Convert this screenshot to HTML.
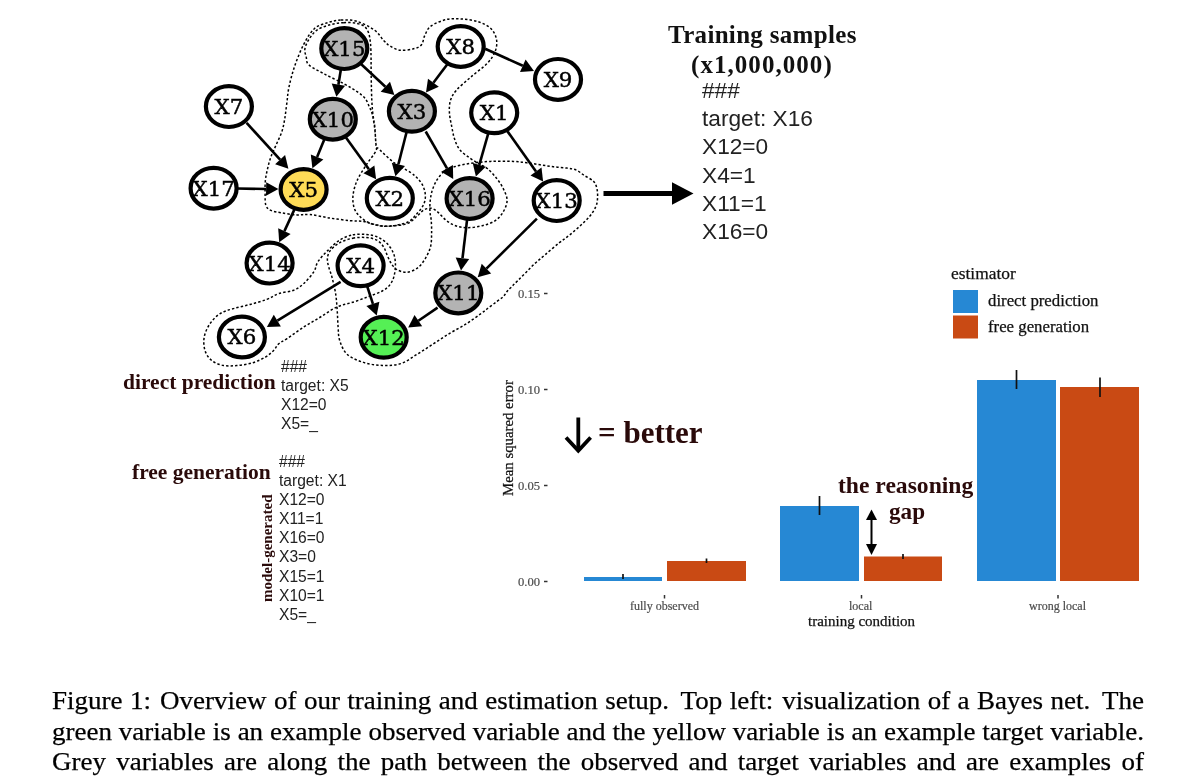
<!DOCTYPE html>
<html><head><meta charset="utf-8"><title>Figure 1</title>
<style>
html,body{margin:0;padding:0;background:#fff;}
body{width:1200px;height:777px;position:relative;overflow:hidden;font-family:"Liberation Serif",serif;color:#000;}
svg{position:absolute;left:0;top:0;}
.nl{font-family:"DejaVu Serif",serif;font-size:20px;fill:#000;stroke:#000;stroke-width:0.45px;}
.t{position:absolute;white-space:nowrap;line-height:1;}
.sans{font-family:"Liberation Sans",sans-serif;color:#222;}
.hb{font-family:"Liberation Serif",serif;font-weight:bold;color:#2a0a0a;}
.cap{position:absolute;left:52px;top:686.3px;width:1011px;font-size:25px;line-height:30.5px;color:#000;-webkit-text-stroke:0.25px #000;transform-origin:0 0;transform:scaleX(1.08);}
.cap i{display:inline-block;height:1px;}
.cap .g1{width:4.4px;}
.cap .g2{width:1.5px;}
.cap div{text-align:justify;text-align-last:justify;white-space:nowrap;height:30.5px;}
.ax{font-family:"Liberation Serif",serif;color:#4d4d4d;font-size:12.6px;-webkit-text-stroke:0.2px #4d4d4d;}
.cl{-webkit-text-stroke:0.25px #111;}
</style></head><body>
<svg width="1200" height="777" viewBox="0 0 1200 777">
<g fill="none" stroke="#000" stroke-width="1.5" stroke-dasharray="2.4,2.1">
<path d="M341.0,20.0C345.9,19.8 351.5,19.7 357.1,21.4C362.7,23.1 370.0,26.9 374.5,30.1C379.0,33.3 381.3,38.1 383.9,40.8C386.5,43.4 387.3,44.4 390.0,46.0C392.7,47.6 396.1,49.7 400.0,50.2C403.9,50.7 409.9,49.7 413.5,48.8C417.1,47.9 419.6,47.0 421.5,44.8C423.4,42.6 423.2,38.5 424.8,35.4C426.4,32.3 427.2,28.8 430.9,26.1C434.6,23.4 441.5,20.6 446.9,19.4C452.2,18.2 457.6,18.7 463.0,19.1C468.4,19.5 474.3,20.4 479.0,22.0C483.7,23.6 488.2,25.8 491.1,28.7C494.0,31.6 495.8,35.7 496.5,39.5C497.2,43.3 496.7,47.5 495.1,51.5C493.5,55.5 491.1,59.3 487.1,63.5C483.1,67.7 476.1,72.4 471.0,76.9C465.9,81.4 459.8,86.3 456.3,90.3C452.9,94.3 451.4,97.1 450.3,101.0C449.2,104.9 449.2,109.4 449.5,113.7C449.8,118.0 451.0,122.6 451.8,126.8C452.6,131.0 453.2,135.0 454.5,138.8C455.8,142.6 457.1,146.3 459.5,149.4C461.9,152.5 465.8,155.1 468.9,157.4C472.0,159.7 475.2,161.5 478.3,163.4C481.4,165.3 484.5,166.2 487.6,168.8C490.7,171.4 494.3,175.4 497.0,178.8C499.7,182.2 502.0,185.9 503.7,189.5C505.4,193.1 507.1,196.6 507.1,200.2C507.1,203.8 505.6,207.7 503.7,211.0C501.8,214.3 499.3,217.9 495.7,220.3C492.1,222.8 487.0,224.5 482.3,225.7C477.6,226.9 472.1,227.7 467.6,227.7C463.1,227.7 459.1,226.9 455.5,225.7C451.9,224.5 449.0,222.5 446.1,220.3C443.2,218.1 440.6,214.3 438.1,212.3C435.7,210.3 433.8,208.7 431.4,208.3C429.0,207.9 426.2,208.7 423.8,210.0C421.4,211.3 419.6,214.0 417.1,216.1C414.7,218.2 412.2,221.2 409.1,222.8C406.0,224.4 402.4,224.9 398.4,225.4C394.4,225.9 389.2,226.3 385.0,226.1C380.8,225.9 376.5,224.9 372.9,224.1C369.3,223.3 367.3,222.0 363.5,221.4C359.7,220.8 355.8,221.2 350.2,220.7C344.6,220.1 336.8,219.1 330.1,218.1C323.4,217.1 315.6,215.0 310.0,214.5C304.4,214.0 301.5,215.2 296.8,214.9C292.1,214.6 286.1,213.7 281.8,212.9C277.5,212.2 273.5,211.7 270.9,210.4C268.2,209.2 266.9,208.2 265.9,205.4C264.9,202.6 265.2,197.9 265.1,193.7C265.0,189.5 265.0,184.5 265.4,180.3C265.8,176.1 266.7,172.5 267.6,168.6C268.5,164.7 269.5,160.8 270.9,156.9C272.3,153.0 274.2,149.4 276.0,145.2C277.8,141.0 280.3,136.3 281.8,131.8C283.3,127.3 284.0,123.1 284.8,118.4C285.6,113.7 286.1,108.5 286.8,103.4C287.5,98.3 287.6,94.0 288.8,88.0C290.0,82.0 291.8,74.8 294.2,67.6C296.6,60.4 300.1,51.3 303.5,44.8C306.9,38.3 310.3,32.4 314.3,28.7C318.3,25.0 323.2,24.1 327.6,22.7C332.1,21.2 336.1,20.2 341.0,20.0Z"/>
<path d="M343.7,22.7C348.2,22.5 353.3,22.4 357.1,23.4C360.9,24.4 364.3,25.3 366.5,28.7C368.7,32.0 369.7,35.5 370.5,43.5C371.3,51.5 371.0,67.5 371.2,76.9C371.4,86.3 371.5,93.9 371.8,100.0C372.1,106.1 372.3,108.9 372.8,113.4C373.3,117.9 374.2,121.5 374.8,126.8C375.4,132.2 375.4,141.7 376.2,145.5C377.0,149.3 376.5,146.6 379.5,149.5C382.5,152.4 389.2,159.1 394.3,162.9C399.4,166.7 406.4,169.7 410.3,172.3C414.2,175.0 415.8,176.4 418.0,178.8C420.2,181.2 422.2,184.0 423.4,186.9C424.6,189.8 425.4,193.2 425.4,196.2C425.4,199.2 424.8,202.1 423.4,205.0C422.0,207.9 419.5,210.7 417.1,213.4C414.7,216.1 412.7,219.4 409.1,221.4C405.5,223.4 400.2,224.6 395.7,225.4C391.2,226.2 386.8,226.5 382.3,226.1C377.8,225.7 372.7,224.5 368.9,222.8C365.1,221.1 361.9,218.6 359.5,216.1C357.1,213.6 355.3,211.4 354.2,208.0C353.1,204.6 352.5,200.0 353.0,195.5C353.5,191.0 354.8,185.9 357.0,180.8C359.2,175.7 363.3,169.6 366.4,164.7C369.5,159.8 374.2,154.5 375.8,151.3C377.4,148.1 376.2,149.6 376.0,145.5C375.8,141.4 375.2,132.2 374.5,126.8C373.8,121.5 372.9,116.8 372.0,113.4C371.1,110.0 370.2,108.9 369.1,106.4C368.0,103.9 367.1,100.9 365.1,98.4C363.1,96.0 360.7,94.2 357.1,91.7C353.5,89.2 349.1,86.5 343.7,83.6C338.3,80.7 330.8,77.4 325.0,74.3C319.2,71.2 312.0,67.8 308.9,64.9C305.8,62.0 306.9,59.6 306.2,56.9C305.5,54.2 304.4,51.7 304.9,48.8C305.3,45.9 306.9,42.6 308.9,39.5C310.9,36.4 313.3,32.6 316.9,30.1C320.5,27.6 325.8,25.9 330.3,24.7C334.8,23.5 339.2,22.9 343.7,22.7Z"/>
<path d="M352.8,234.8C357.2,233.9 362.2,234.2 366.2,234.5C370.2,234.8 373.5,235.4 376.9,236.8C380.2,238.2 383.6,240.2 386.3,242.8C389.0,245.4 391.5,248.8 393.0,252.2C394.5,255.5 395.2,259.1 395.4,262.9C395.6,266.7 395.1,271.4 394.3,275.0C393.5,278.6 392.3,281.6 390.3,284.3C388.3,287.0 385.9,289.0 382.3,291.0C378.7,293.0 373.6,294.6 368.9,296.4C364.2,298.2 359.3,300.1 354.0,301.9C348.7,303.6 342.8,304.4 337.2,306.9C331.6,309.4 326.1,313.6 320.5,317.0C314.9,320.4 309.4,323.4 303.8,327.0C298.2,330.6 291.2,335.9 287.0,338.7C282.8,341.5 280.9,341.8 278.7,343.8C276.5,345.8 275.8,348.3 273.6,350.5C271.4,352.7 268.9,355.1 265.3,357.2C261.7,359.3 256.6,361.6 251.9,363.0C247.2,364.4 241.6,365.1 236.8,365.5C232.1,365.9 227.6,366.3 223.4,365.5C219.2,364.7 214.8,363.0 211.7,360.5C208.6,358.0 206.2,354.4 205.0,350.5C203.8,346.6 203.4,341.6 204.2,337.1C205.0,332.6 207.3,327.6 210.0,323.7C212.7,319.8 216.2,316.1 220.1,313.6C224.0,311.1 228.5,310.1 233.5,308.6C238.5,307.1 244.6,305.9 250.2,304.4C255.8,302.9 262.1,301.2 266.9,299.4C271.6,297.6 274.2,295.1 278.7,293.6C283.2,292.1 289.5,291.9 293.7,290.2C297.9,288.5 300.4,286.6 303.8,283.5C307.2,280.4 311.4,275.4 313.8,271.8C316.2,268.2 315.7,265.1 318.0,261.6C320.3,258.1 323.8,254.5 327.4,250.9C331.0,247.3 335.3,242.9 339.5,240.2C343.7,237.5 348.4,235.8 352.8,234.8Z"/>
<path d="M352.8,238.2C357.2,237.3 362.2,237.2 366.2,237.5C370.2,237.8 374.0,238.6 376.9,240.2C379.8,241.8 381.8,244.2 383.6,246.9C385.4,249.6 386.2,253.3 387.6,256.2C389.0,259.1 390.1,262.1 391.7,264.3C393.3,266.5 394.6,268.3 397.0,269.6C399.4,270.9 403.0,272.5 406.4,272.3C409.8,272.1 414.0,270.5 417.1,268.3C420.2,266.1 422.9,262.5 425.1,258.9C427.3,255.3 429.4,251.1 430.5,246.9C431.6,242.7 431.5,238.0 431.6,233.5C431.7,229.0 431.5,223.6 431.2,220.1C430.9,216.6 430.2,215.4 430.0,212.3C429.8,209.2 429.8,205.2 430.1,201.6C430.5,198.0 431.0,194.5 432.1,190.9C433.2,187.3 434.7,183.5 436.8,180.2C438.9,176.8 441.9,173.0 444.8,170.8C447.7,168.6 450.0,168.0 454.2,166.8C458.4,165.6 464.2,164.3 470.2,163.4C476.2,162.5 483.1,161.7 490.3,161.4C497.5,161.1 507.3,161.2 513.4,161.4C519.5,161.6 522.3,162.2 526.8,162.8C531.3,163.4 535.8,164.1 540.2,164.8C544.7,165.5 549.0,166.2 553.5,166.8C558.0,167.4 563.1,167.6 566.9,168.1C570.7,168.6 573.4,168.9 576.3,170.1C579.2,171.3 581.4,173.6 584.3,175.5C587.2,177.4 591.6,179.2 593.7,181.5C595.8,183.8 596.5,186.6 597.1,189.5C597.7,192.4 597.7,196.0 597.5,198.9C597.3,201.8 597.0,204.0 595.7,206.9C594.4,209.8 592.3,213.2 589.7,216.3C587.1,219.4 583.6,222.6 580.3,225.7C576.9,228.8 573.2,232.1 569.6,235.0C566.0,237.9 563.0,239.8 558.9,243.1C554.8,246.4 549.2,251.3 545.3,254.6C541.4,257.9 538.5,260.2 535.3,263.1C532.1,266.0 529.1,269.4 526.2,272.2C523.4,275.0 520.5,277.9 518.2,280.2C515.9,282.5 514.0,284.3 512.2,286.2C510.4,288.1 508.7,289.5 507.2,291.3C505.7,293.1 504.8,295.1 503.1,296.8C501.4,298.5 499.4,299.6 497.1,301.3C494.8,303.1 491.9,305.2 489.1,307.3C486.4,309.4 484.4,311.1 480.6,313.8C476.8,316.5 471.6,320.5 466.5,323.7C461.4,326.9 455.6,329.8 450.1,333.1C444.6,336.4 439.2,340.1 433.7,343.6C428.2,347.1 422.8,350.9 417.3,354.2C411.8,357.5 406.8,361.7 400.9,363.6C395.0,365.5 388.4,365.6 382.2,365.4C375.9,365.2 369.3,364.3 363.4,362.4C357.5,360.5 350.9,357.9 347.0,354.2C343.1,350.5 341.2,344.9 339.7,340.4C338.2,335.9 338.5,332.0 338.1,327.0C337.7,322.0 337.6,315.9 337.2,310.3C336.8,304.7 336.5,299.1 335.6,293.6C334.8,288.2 333.2,282.1 332.1,277.6C331.0,273.2 329.5,270.0 328.7,266.9C327.9,263.8 327.2,261.6 327.4,258.9C327.6,256.2 328.1,253.6 330.1,250.9C332.1,248.2 335.7,244.9 339.5,242.8C343.3,240.7 348.4,239.1 352.8,238.2Z"/>
</g>
<line x1="341.0" y1="68.8" x2="338.4" y2="84.7" stroke="#000" stroke-width="2.6"/>
<polygon points="336.4,96.8 331.7,83.6 345.1,85.8" fill="#000"/>
<line x1="360.2" y1="63.3" x2="385.4" y2="86.7" stroke="#000" stroke-width="2.6"/>
<polygon points="394.4,95.1 380.7,91.7 390.0,81.7" fill="#000"/>
<line x1="447.9" y1="63.5" x2="433.4" y2="82.7" stroke="#000" stroke-width="2.6"/>
<polygon points="426.0,92.6 428.0,78.7 438.8,86.8" fill="#000"/>
<line x1="485.1" y1="48.8" x2="522.8" y2="65.8" stroke="#000" stroke-width="2.6"/>
<polygon points="534.0,70.9 520.0,72.0 525.6,59.6" fill="#000"/>
<line x1="246.6" y1="122.9" x2="280.1" y2="159.7" stroke="#000" stroke-width="2.6"/>
<polygon points="288.4,168.8 275.1,164.3 285.1,155.1" fill="#000"/>
<line x1="324.8" y1="138.3" x2="317.1" y2="157.0" stroke="#000" stroke-width="2.6"/>
<polygon points="312.4,168.3 310.8,154.4 323.4,159.6" fill="#000"/>
<line x1="345.2" y1="136.4" x2="368.9" y2="169.3" stroke="#000" stroke-width="2.6"/>
<polygon points="376.1,179.3 363.4,173.3 374.4,165.4" fill="#000"/>
<line x1="406.8" y1="131.2" x2="398.4" y2="164.3" stroke="#000" stroke-width="2.6"/>
<polygon points="395.4,176.3 391.8,162.7 405.0,166.0" fill="#000"/>
<line x1="425.7" y1="131.5" x2="447.0" y2="168.4" stroke="#000" stroke-width="2.6"/>
<polygon points="453.2,179.0 441.2,171.8 452.9,164.9" fill="#000"/>
<line x1="488.5" y1="132.6" x2="479.3" y2="164.8" stroke="#000" stroke-width="2.6"/>
<polygon points="475.9,176.6 472.7,162.9 485.8,166.7" fill="#000"/>
<line x1="506.5" y1="130.0" x2="536.0" y2="171.5" stroke="#000" stroke-width="2.6"/>
<polygon points="543.1,181.6 530.5,175.5 541.5,167.6" fill="#000"/>
<line x1="236.6" y1="188.5" x2="266.1" y2="189.0" stroke="#000" stroke-width="2.6"/>
<polygon points="278.4,189.1 266.0,195.8 266.2,182.2" fill="#000"/>
<line x1="294.9" y1="208.4" x2="284.4" y2="231.1" stroke="#000" stroke-width="2.6"/>
<polygon points="279.2,242.2 278.2,228.2 290.6,233.9" fill="#000"/>
<line x1="340.6" y1="281.8" x2="277.4" y2="320.6" stroke="#000" stroke-width="2.6"/>
<polygon points="266.9,327.0 273.8,314.8 280.9,326.4" fill="#000"/>
<line x1="366.9" y1="285.4" x2="372.9" y2="303.9" stroke="#000" stroke-width="2.6"/>
<polygon points="376.7,315.6 366.4,306.0 379.4,301.8" fill="#000"/>
<line x1="467.2" y1="218.8" x2="462.5" y2="258.2" stroke="#000" stroke-width="2.6"/>
<polygon points="461.0,270.4 455.7,257.4 469.2,259.0" fill="#000"/>
<line x1="536.9" y1="218.7" x2="486.4" y2="268.6" stroke="#000" stroke-width="2.6"/>
<polygon points="477.7,277.2 481.7,263.7 491.2,273.4" fill="#000"/>
<line x1="437.6" y1="307.6" x2="418.4" y2="320.7" stroke="#000" stroke-width="2.6"/>
<polygon points="408.2,327.6 414.5,315.1 422.2,326.3" fill="#000"/>
<ellipse cx="344.3" cy="48.6" rx="23.0" ry="20.4" fill="#b3b3b3" stroke="#000" stroke-width="4.2"/>
<text transform="translate(344.3,56.0) scale(1.065,1)" text-anchor="middle" class="nl">X15</text>
<ellipse cx="460.7" cy="46.5" rx="23.0" ry="20.4" fill="#fff" stroke="#000" stroke-width="4.2"/>
<text transform="translate(460.7,53.9) scale(1.065,1)" text-anchor="middle" class="nl">X8</text>
<ellipse cx="558" cy="79.4" rx="23.0" ry="20.4" fill="#fff" stroke="#000" stroke-width="4.2"/>
<text transform="translate(558,86.80000000000001) scale(1.065,1)" text-anchor="middle" class="nl">X9</text>
<ellipse cx="228.9" cy="106.6" rx="23.0" ry="20.4" fill="#fff" stroke="#000" stroke-width="4.2"/>
<text transform="translate(228.9,114.0) scale(1.065,1)" text-anchor="middle" class="nl">X7</text>
<ellipse cx="332.8" cy="119.2" rx="23.0" ry="20.4" fill="#b3b3b3" stroke="#000" stroke-width="4.2"/>
<text transform="translate(332.8,126.60000000000001) scale(1.065,1)" text-anchor="middle" class="nl">X10</text>
<ellipse cx="411.9" cy="111.3" rx="23.0" ry="20.4" fill="#b3b3b3" stroke="#000" stroke-width="4.2"/>
<text transform="translate(411.9,118.7) scale(1.065,1)" text-anchor="middle" class="nl">X3</text>
<ellipse cx="494.2" cy="112.8" rx="23.0" ry="20.4" fill="#fff" stroke="#000" stroke-width="4.2"/>
<text transform="translate(494.2,120.2) scale(1.065,1)" text-anchor="middle" class="nl">X1</text>
<ellipse cx="213.6" cy="188.2" rx="23.0" ry="20.4" fill="#fff" stroke="#000" stroke-width="4.2"/>
<text transform="translate(213.6,195.6) scale(1.065,1)" text-anchor="middle" class="nl">X17</text>
<ellipse cx="303.6" cy="189.5" rx="23.0" ry="20.4" fill="#ffdc57" stroke="#000" stroke-width="4.2"/>
<text transform="translate(303.6,196.9) scale(1.065,1)" text-anchor="middle" class="nl">X5</text>
<ellipse cx="389.8" cy="198.3" rx="23.0" ry="20.4" fill="#fff" stroke="#000" stroke-width="4.2"/>
<text transform="translate(389.8,205.70000000000002) scale(1.065,1)" text-anchor="middle" class="nl">X2</text>
<ellipse cx="469.6" cy="198.5" rx="23.0" ry="20.4" fill="#b3b3b3" stroke="#000" stroke-width="4.2"/>
<text transform="translate(469.6,205.9) scale(1.065,1)" text-anchor="middle" class="nl">X16</text>
<ellipse cx="556.7" cy="200.6" rx="23.0" ry="20.4" fill="#fff" stroke="#000" stroke-width="4.2"/>
<text transform="translate(556.7,208.0) scale(1.065,1)" text-anchor="middle" class="nl">X13</text>
<ellipse cx="269.6" cy="263.1" rx="23.0" ry="20.4" fill="#fff" stroke="#000" stroke-width="4.2"/>
<text transform="translate(269.6,270.5) scale(1.065,1)" text-anchor="middle" class="nl">X14</text>
<ellipse cx="360.6" cy="265.8" rx="23.0" ry="20.4" fill="#fff" stroke="#000" stroke-width="4.2"/>
<text transform="translate(360.6,273.2) scale(1.065,1)" text-anchor="middle" class="nl">X4</text>
<ellipse cx="458.3" cy="292.9" rx="23.0" ry="20.4" fill="#b3b3b3" stroke="#000" stroke-width="4.2"/>
<text transform="translate(458.3,300.29999999999995) scale(1.065,1)" text-anchor="middle" class="nl">X11</text>
<ellipse cx="241.9" cy="337.0" rx="23.0" ry="20.4" fill="#fff" stroke="#000" stroke-width="4.2"/>
<text transform="translate(241.9,344.4) scale(1.065,1)" text-anchor="middle" class="nl">X6</text>
<ellipse cx="383.7" cy="337.3" rx="23.0" ry="20.4" fill="#55f055" stroke="#000" stroke-width="4.2"/>
<text transform="translate(383.7,344.7) scale(1.065,1)" text-anchor="middle" class="nl">X12</text>
<!-- big arrow -->
<line x1="603.5" y1="193.5" x2="673" y2="193.5" stroke="#000" stroke-width="5"/>
<polygon points="693.5,193.5 672,182.3 672,204.7" fill="#000"/>
<!-- chart bars -->
<rect x="584" y="577" width="78" height="4" fill="#2688d4"/>
<rect x="667" y="561" width="79" height="20" fill="#c94a14"/>
<rect x="780" y="506" width="79" height="75" fill="#2688d4"/>
<rect x="864" y="556.5" width="78" height="24.5" fill="#c94a14"/>
<rect x="977" y="380" width="79" height="201" fill="#2688d4"/>
<rect x="1060" y="387" width="79" height="194" fill="#c94a14"/>
<g stroke="#111" stroke-width="1.7">
<line x1="623" y1="574" x2="623" y2="579"/>
<line x1="706.5" y1="558.5" x2="706.5" y2="563"/>
<line x1="819.5" y1="496" x2="819.5" y2="515"/>
<line x1="903" y1="554" x2="903" y2="559"/>
<line x1="1016.5" y1="370" x2="1016.5" y2="389"/>
<line x1="1100" y1="377.500" x2="1100" y2="397"/>
</g>
<g stroke="#333" stroke-width="1.5">
<line x1="544" y1="293.5" x2="547.500" y2="293.5"/>
<line x1="544" y1="389.5" x2="547.500" y2="389.5"/>
<line x1="544" y1="485.5" x2="547.500" y2="485.5"/>
<line x1="544" y1="581.5" x2="547.500" y2="581.5"/>
<line x1="664.500" y1="595" x2="664.500" y2="598.500"/>
<line x1="861.500" y1="595" x2="861.500" y2="598.500"/>
<line x1="1058" y1="595" x2="1058" y2="598.500"/>
</g>
<!-- legend -->
<rect x="953" y="290" width="25" height="23" fill="#2688d4"/>
<rect x="953" y="315.500" width="25" height="23" fill="#c94a14"/>
<!-- down arrow -->
<g stroke="#000" stroke-width="3.8" fill="none" stroke-linecap="butt" stroke-linejoin="miter">
<line x1="578.3" y1="417.5" x2="578.3" y2="450"/>
<polyline points="566,437.5 578.3,450.8 590.6,437.5"/>
</g>
<!-- gap double arrow -->
<line x1="871.500" y1="517" x2="871.500" y2="546" stroke="#000" stroke-width="2"/>
<polygon points="871.500,509.5 866,520 877,520" fill="#000"/>
<polygon points="871.500,555 866,544 877,544" fill="#000"/>
</svg>

<div class="t hb" style="left:668px;top:22px;font-size:25px;letter-spacing:0.32px;color:#111;">Training samples</div>
<div class="t hb" style="left:691px;top:52px;font-size:25px;letter-spacing:1.05px;color:#111;">(x1,000,000)</div>
<div class="t sans" style="left:702px;top:76px;font-size:22.7px;line-height:28.2px;white-space:pre;">###
target: X16
X12=0
X4=1
X11=1
X16=0</div>

<div class="t hb" style="left:123px;top:372px;font-size:21.5px;">direct prediction</div>
<div class="t sans" style="left:281px;top:357px;font-size:15.6px;line-height:19.1px;white-space:pre;">###
target: X5
X12=0
X5=_</div>
<div class="t hb" style="left:132px;top:462px;font-size:21.5px;">free generation</div>
<div class="t sans" style="left:279px;top:452px;font-size:15.6px;line-height:19.1px;white-space:pre;">###
target: X1
X12=0
X11=1
X16=0
X3=0
X15=1
X10=1
X5=_</div>
<div class="t hb" style="left:260px;top:602px;font-size:15px;transform-origin:0 0;transform:rotate(-90deg);">model-generated</div>

<div class="t ax" style="left:518px;top:287.5px;">0.15</div>
<div class="t ax" style="left:518px;top:383.5px;">0.10</div>
<div class="t ax" style="left:518px;top:479.5px;">0.05</div>
<div class="t ax" style="left:518px;top:575.5px;">0.00</div>
<div class="t cl" style="left:501px;top:496px;font-size:14.8px;color:#111;transform-origin:0 0;transform:rotate(-90deg);">Mean squared error</div>
<div class="t ax" style="left:630px;top:600px;font-size:12px;">fully observed</div>
<div class="t ax" style="left:849px;top:600px;font-size:12px;">local</div>
<div class="t ax" style="left:1029px;top:600px;font-size:12px;">wrong local</div>
<div class="t cl" style="left:808px;top:614.3px;font-size:15px;color:#111;">training condition</div>
<div class="t cl" style="left:951px;top:265px;font-size:17.4px;color:#111;">estimator</div>
<div class="t cl" style="left:988px;top:293.3px;font-size:16.8px;color:#111;">direct prediction</div>
<div class="t cl" style="left:988px;top:319px;font-size:16.8px;color:#111;">free generation</div>
<div class="t hb" style="left:598px;top:416.5px;font-size:31px;">= better</div>
<div class="t hb" style="left:838px;top:474px;font-size:23.6px;">the reasoning</div>
<div class="t hb" style="left:889px;top:500px;font-size:23.2px;">gap</div>

<div class="cap"><div>Figure 1:<i class="g2"></i> Overview of our training and estimation setup.<i class="g1"></i> Top left:<i class="g2"></i> visualization of a Bayes net.<i class="g1"></i> The</div><div>green variable is an example observed variable and the yellow variable is an example target variable.</div><div>Grey variables are along the path between the observed and target variables and are examples of</div><div>useful intermediate variables for reasoning.</div></div>
</body></html>
